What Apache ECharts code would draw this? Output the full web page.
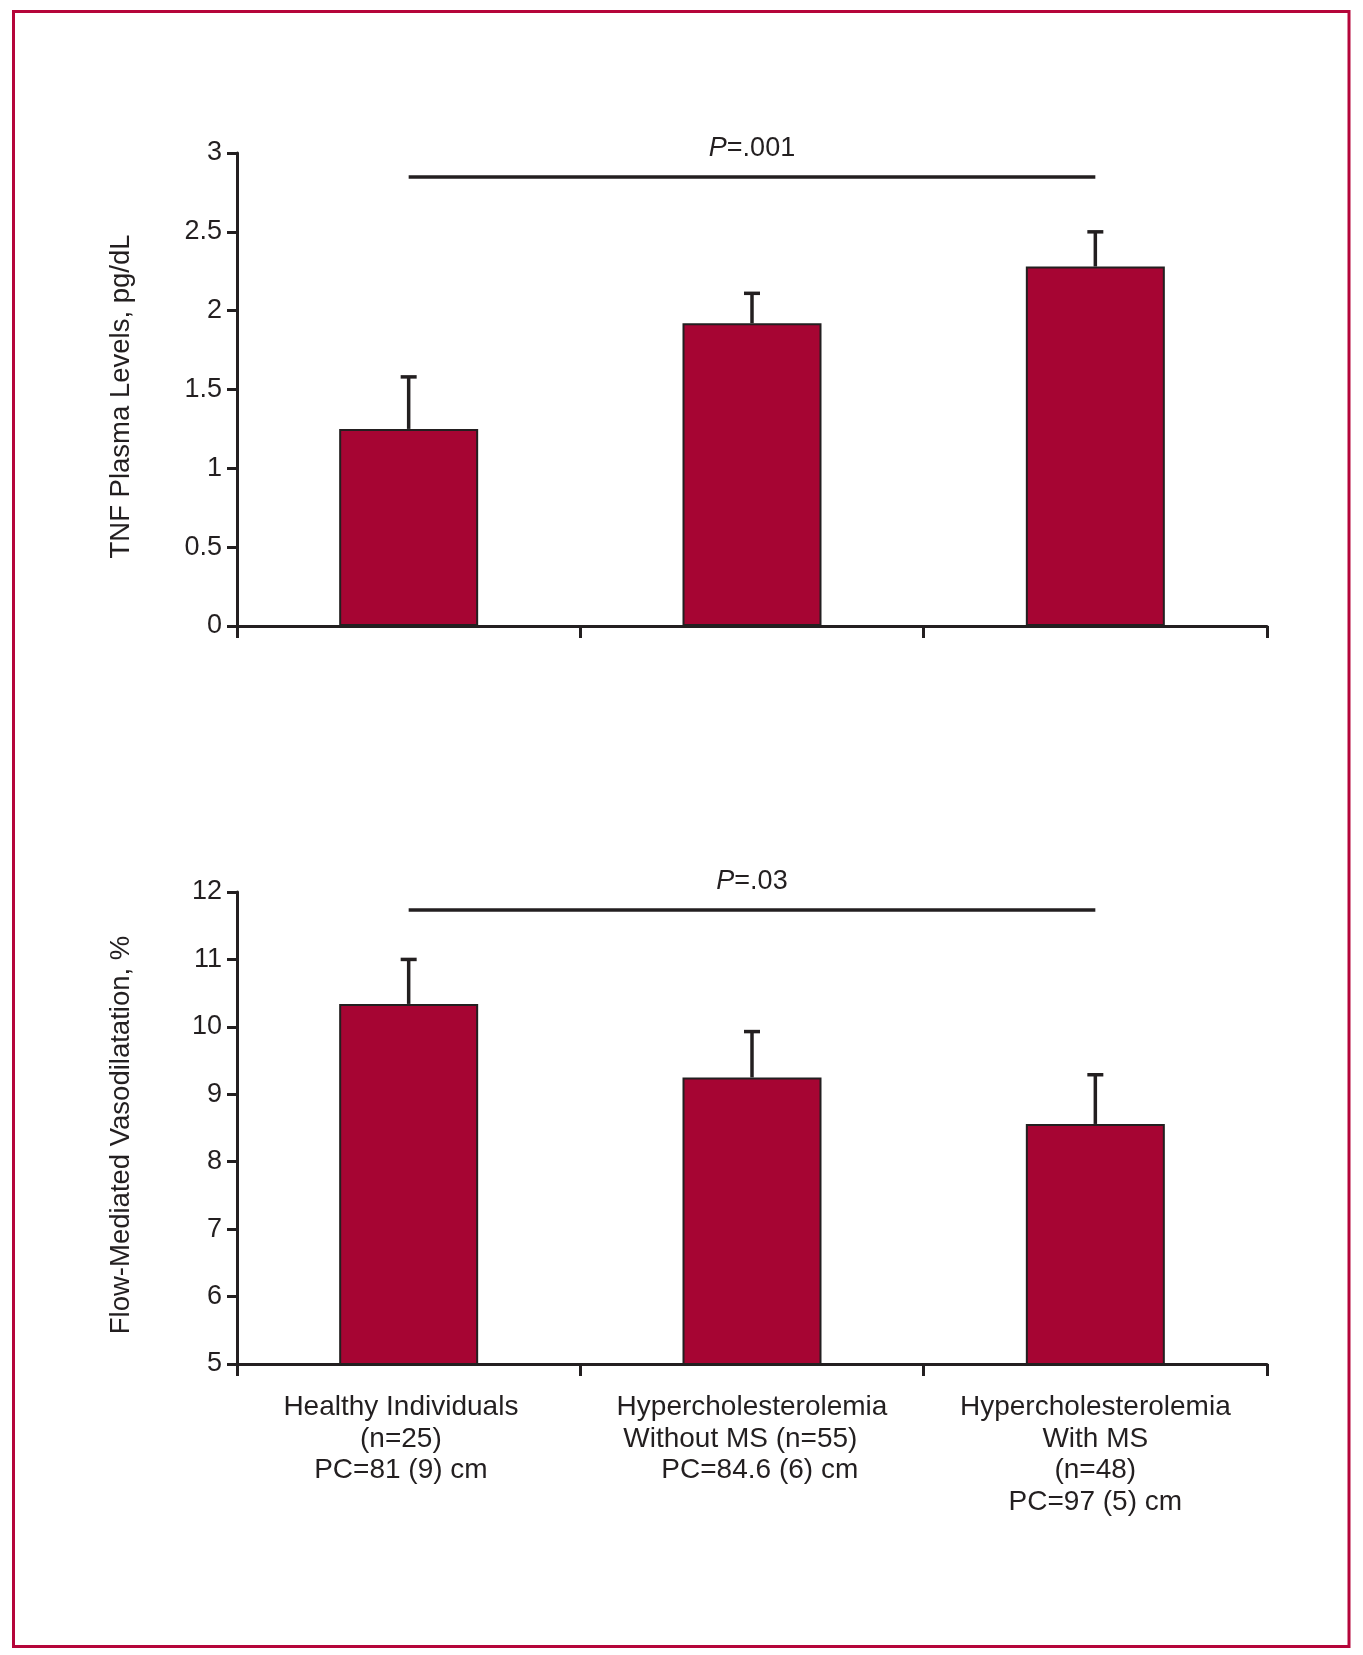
<!DOCTYPE html>
<html>
<head>
<meta charset="utf-8">
<script src="https://cdn.jsdelivr.net/npm/echarts@6/dist/echarts.min.js"></script>
<style>
html,body{margin:0;padding:0;background:#fff;}
#chart{width:1363px;height:1655px;}
</style>
</head>
<body>
<div id="chart"></div>
<script>
// ---- data ----
var categories = [
  'Healthy Individuals  \n(n=25)  \nPC=81 (9) cm  ',
  'Hypercholesterolemia\nWithout MS (n=55)   \n  PC=84.6 (6) cm',
  'Hypercholesterolemia\nWith MS\n(n=48)\nPC=97 (5) cm'
];
var tnfMean = [1.25, 1.92, 2.28];
var tnfErr = [0.33, 0.19, 0.22];
var fmdMean = [10.34, 9.25, 8.56];
var fmdErr = [0.66, 0.68, 0.73];
var tnfPText = '.001';
var fmdPText = '.03';
var tnfPLevel = 2.85;
var fmdPLevel = 11.73;
var tnfAxisName = 'TNF Plasma Levels, pg/dL';
var fmdAxisName = 'Flow-Mediated Vasodilatation, %';

// ---- styles ----
var INK = '#231f20';
var BAR = '#a60533';
var FONT = "'Liberation Sans',Arial,sans-serif";

function errData(mean, err) {
  return mean.map(function (m, i) { return [i, m, +(m + err[i]).toFixed(3)]; });
}
function errRender(params, api) {
  var lo = api.coord([api.value(0), api.value(1)]);
  var hi = api.coord([api.value(0), api.value(2)]);
  var half = 8;
  return {
    type: 'group',
    children: [
      { type: 'line', shape: { x1: lo[0], y1: lo[1], x2: hi[0], y2: hi[1] }, style: { stroke: INK, lineWidth: 3.5 } },
      { type: 'line', shape: { x1: hi[0] - half, y1: hi[1], x2: hi[0] + half, y2: hi[1] }, style: { stroke: INK, lineWidth: 3.5 } }
    ]
  };
}
function pMarkLine(level, txt) {
  return {
    silent: true,
    symbol: 'none',
    lineStyle: { color: INK, width: 3.5, type: 'solid' },
    label: {
      show: true,
      position: 'middle',
      distance: 15,
      formatter: '{i|P}{n|=' + txt + '}',
      rich: {
        i: { fontStyle: 'italic', fontSize: 27, fontFamily: FONT, color: INK },
        n: { fontSize: 27, fontFamily: FONT, color: INK }
      }
    },
    data: [[{ coord: [0, level] }, { coord: [2, level] }]]
  };
}
function yAxis(idx, min, max, interval, name) {
  return {
    type: 'value', gridIndex: idx, min: min, max: max, interval: interval,
    name: name, nameLocation: 'middle', nameRotate: 90, nameGap: 102,
    nameTextStyle: { fontSize: 27.5, fontFamily: FONT, color: INK, padding: [0, 14, 0, 0] },
    axisLine: { show: true, lineStyle: { color: INK, width: 3 } },
    axisTick: { show: true, length: 10, lineStyle: { color: INK, width: 3 } },
    axisLabel: { fontSize: 27, fontFamily: FONT, color: INK, margin: 15 },
    splitLine: { show: false }
  };
}
function xAxis(idx, showLabel) {
  return {
    type: 'category', gridIndex: idx, data: categories,
    axisLine: { show: true, lineStyle: { color: INK, width: 3 } },
    axisTick: { show: true, length: 12, lineStyle: { color: INK, width: 3 } },
    axisLabel: { show: showLabel, interval: 0, fontSize: 28, lineHeight: 31.5, fontFamily: FONT, color: INK, margin: 28, align: 'center' },
    splitLine: { show: false }
  };
}

var chart = echarts.init(document.getElementById('chart'), null, { renderer: 'canvas' });
chart.setOption({
  backgroundColor: '#ffffff',
  animation: false,
  graphic: [{
    type: 'rect', shape: { x: 13.5, y: 11.5, width: 1335.5, height: 1635 },
    style: { fill: 'none', stroke: '#b5053a', lineWidth: 3 }, silent: true
  }],
  grid: [
    { left: 237, top: 153, width: 1030, height: 473 },
    { left: 237, top: 892, width: 1030, height: 472 }
  ],
  xAxis: [xAxis(0, false), xAxis(1, true)],
  yAxis: [
    yAxis(0, 0, 3, 0.5, tnfAxisName),
    yAxis(1, 5, 12, 1, fmdAxisName)
  ],
  series: [
    {
      type: 'bar', xAxisIndex: 0, yAxisIndex: 0, data: tnfMean, barWidth: 139,
      itemStyle: { color: BAR, borderColor: INK, borderWidth: 2 },
      markLine: pMarkLine(tnfPLevel, tnfPText)
    },
    {
      type: 'custom', xAxisIndex: 0, yAxisIndex: 0, data: errData(tnfMean, tnfErr),
      renderItem: errRender, encode: { x: 0, y: [1, 2] }, z: 5
    },
    {
      type: 'bar', xAxisIndex: 1, yAxisIndex: 1, data: fmdMean, barWidth: 139,
      itemStyle: { color: BAR, borderColor: INK, borderWidth: 2 },
      markLine: pMarkLine(fmdPLevel, fmdPText)
    },
    {
      type: 'custom', xAxisIndex: 1, yAxisIndex: 1, data: errData(fmdMean, fmdErr),
      renderItem: errRender, encode: { x: 0, y: [1, 2] }, z: 5
    }
  ]
});
</script>
</body>
</html>
